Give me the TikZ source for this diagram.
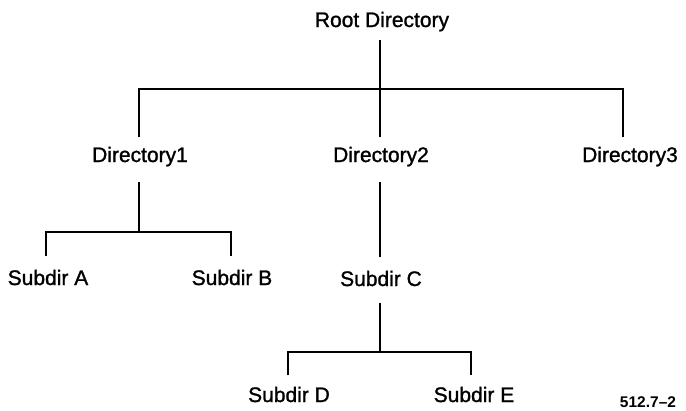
\documentclass[tikz,border=0pt]{standalone}
\usepackage{fontspec}
\setmainfont{Liberation Sans}
\newfontfamily\lblfont{Liberation Sans}[BoldFont={Liberation Sans},BoldFeatures={FakeBold=1.2}]
\begin{document}
\begin{tikzpicture}[x=1pt,y=-1pt,
  lbl/.style={anchor=base,inner sep=0pt,font=\fontsize{21}{24}\lblfont\bfseries},
  tag/.style={anchor=base,inner sep=0pt,font=\fontsize{15.5}{18}\selectfont\bfseries},
  link/.style={line width=1.7pt,line cap=butt,line join=miter}]
\useasboundingbox (0,0) rectangle (686,410);
% nodes
\node[lbl] (root) at (382,27) {Root Directory};
\node[lbl] (d1) at (140,162) {Directory1};
\node[lbl] (d2) at (381,162) {Directory2};
\node[lbl] (d3) at (630,162) {Directory3};
\node[lbl] (sa) at (48,285) {Subdir A};
\node[lbl] (sb) at (232,285) {Subdir B};
\node[lbl] (sc) at (381,286) {Subdir C};
\node[lbl] (sd) at (289,402) {Subdir D};
\node[lbl] (se) at (474,402) {Subdir E};
\node[tag] (fig) at (648,407) {512.7--2};
% junction coordinates
\coordinate (rt) at (380,40);
\coordinate (rj) at (380,89);
\coordinate (d1e) at (139,137);
\coordinate (d2e) at (380,137);
\coordinate (d3e) at (623,137);
\coordinate (d1t) at (139,182);
\coordinate (d1j) at (139,232);
\coordinate (sae) at (46,256);
\coordinate (sbe) at (231,256);
\coordinate (d2t) at (380,182);
\coordinate (d2b) at (380,257);
\coordinate (sct) at (380,303);
\coordinate (scj) at (380,352);
\coordinate (sde) at (288,375);
\coordinate (see) at (471,375);
% connectors
\draw[link] (rt) -- (rj);
\draw[link] (d1e) |- (rj) -| (d3e);
\draw[link] (rj) -- (d2e);
\draw[link] (d1t) -- (d1j);
\draw[link] (sae) |- (d1j) -| (sbe);
\draw[link] (d2t) -- (d2b);
\draw[link] (sct) -- (scj);
\draw[link] (sde) |- (scj) -| (see);
\end{tikzpicture}
\end{document}
